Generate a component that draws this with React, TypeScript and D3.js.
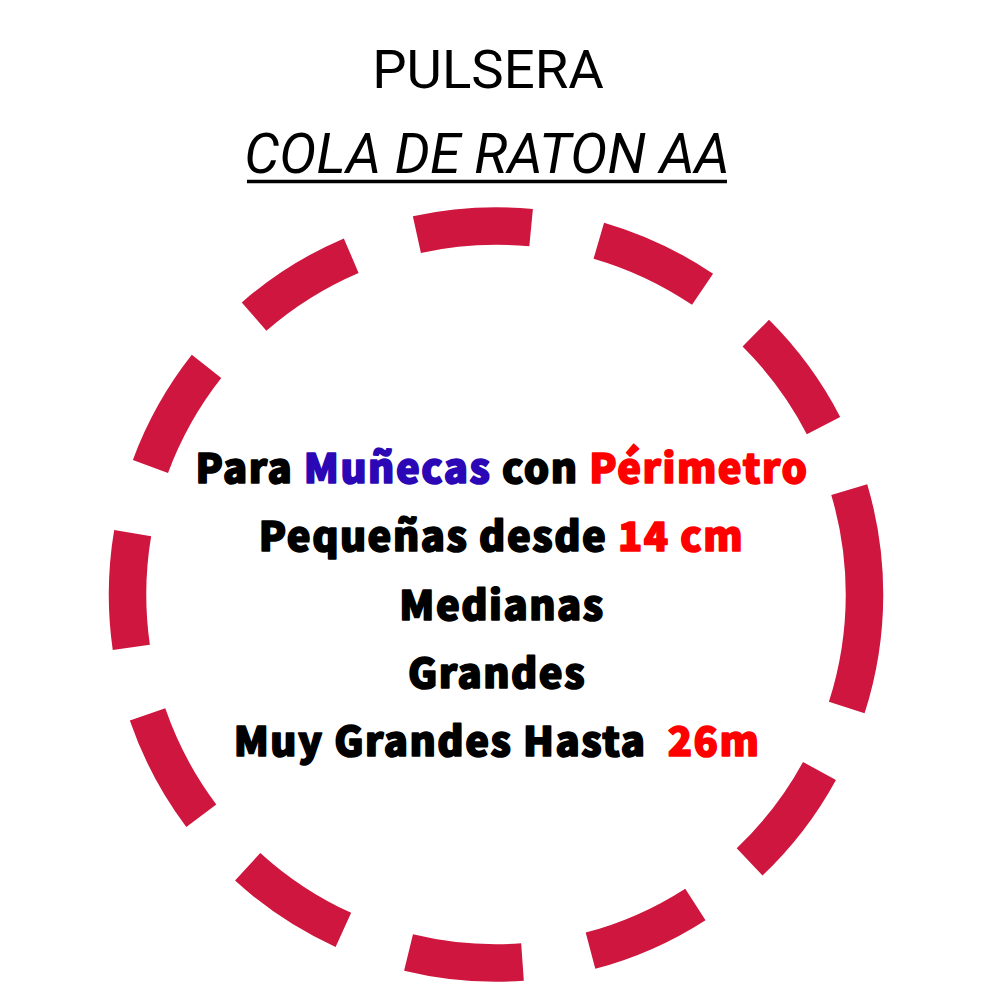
import React, { useEffect } from "react";
import * as d3 from "d3";

const title = "PULSERA";
const subtitle = "COLA DE RATON AA";

type Seg = { text: string; color: string };
const BLACK = "#000000";
const BLUE = "#2b07b6";
const RED = "#ff0000";

const line1: Seg[] = [
  { text: "Para ", color: BLACK },
  { text: "Muñecas", color: BLUE },
  { text: " con ", color: BLACK },
  { text: "Périmetro", color: RED },
];
const line2: Seg[] = [
  { text: "Pequeñas desde ", color: BLACK },
  { text: "14 cm", color: RED },
];
const line3: Seg[] = [{ text: "Medianas", color: BLACK }];
const line4: Seg[] = [{ text: "Grandes", color: BLACK }];
const line5: Seg[] = [
  { text: "Muy Grandes Hasta\u00a0 ", color: BLACK },
  { text: "26m", color: RED },
];
const lines: Seg[][] = [line1, line2, line3, line4, line5];

export default function App() {
  useEffect(() => {
    document.body.style.margin = "0";
  }, []);

  const cx = 496;
  const cy = 594.5;
  const r = 368.5;

  const yLine = d3
    .scaleLinear()
    .domain([0, lines.length - 1])
    .range([483, 756]);
  const lineCenters = [502, 501.5, 502, 497, 497];

  return (
    <svg width={1000} height={1000} viewBox="0 0 1000 1000" style={{ display: "block", background: "#fff" }}>
      <rect x={0} y={0} width={1000} height={1000} fill="#fff" />
      <circle
        cx={cx}
        cy={cy}
        r={r}
        fill="none"
        stroke="#ce163e"
        strokeWidth={37.5}
        strokeDasharray="115 69"
      />
      <text
        x={488}
        y={88}
        textAnchor="middle"
        fontFamily="Roboto"
        fontSize={54.5}
        fill="#000"
      >
        {title}
      </text>
      <text
        x={487}
        y={173}
        textAnchor="middle"
        fontFamily="Roboto"
        fontStyle="italic"
        fontSize={55.5}
        fill="#000"
      >
        {subtitle}
      </text>
      <line x1={247} x2={727} y1={181.5} y2={181.5} stroke="#000" strokeWidth={3.5} />
      {lines.map((segs, i) => (
        <text
          key={i}
          x={lineCenters[i]}
          y={yLine(i)}
          textAnchor="middle"
          fontFamily="'Noto Sans CJK SC', 'Noto Sans', sans-serif"
          fontWeight={900}
          fontSize={40}
          letterSpacing={1.5}
          strokeWidth={1.6}
          strokeLinejoin="round"
          style={{ whiteSpace: "pre" }}
        >
          {segs.map((s, j) => (
            <tspan key={j} fill={s.color} stroke={s.color}>
              {s.text}
            </tspan>
          ))}
        </text>
      ))}
    </svg>
  );
}
